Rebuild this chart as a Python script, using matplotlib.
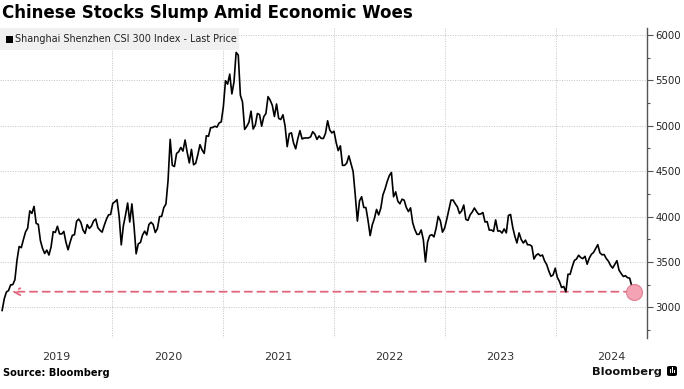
import numpy as np
import pandas as pd
import matplotlib
matplotlib.use("Agg")
import matplotlib.pyplot as plt
from matplotlib.patches import Rectangle, FancyBboxPatch

# Weekly (Friday) closes of the CSI 300
csi_2019 = [2965, 3094, 3168, 3184, 3247, 3250, 3303, 3520, 3670, 3657, 3746, 3830, 3872,
            4062, 4035, 4112, 3925, 3913, 3734, 3649, 3593, 3630, 3576, 3664, 3834, 3825,
            3893, 3809, 3808, 3836, 3717, 3634, 3720, 3793, 3799, 3948, 3972, 3936, 3852,
            3814, 3911, 3869, 3896, 3952, 3973, 3877, 3849, 3828, 3902, 3968, 4018, 4023]
csi_2020 = [4144, 4163, 4186, 4004, 3688, 3899, 4016, 4149, 3940, 4139, 3895, 3590, 3700,
            3713, 3796, 3839, 3797, 3912, 3937, 3913, 3824, 3867, 3999, 4003, 4098, 4138,
            4396, 4850, 4564, 4551, 4695, 4714, 4761, 4721, 4843, 4707, 4591, 4740, 4570,
            4587, 4681, 4792, 4733, 4695, 4890, 4884, 4978, 4981, 4995, 4985, 5031, 5042]
csi_2021 = [5211, 5496, 5458, 5569, 5351, 5484, 5808, 5779, 5336, 5262, 4960, 4993, 5037,
            5161, 4964, 5007, 5135, 5123, 4995, 5100, 5135, 5321, 5282, 5225, 5102, 5240,
            5081, 5069, 5121, 4999, 4770, 4913, 4922, 4810, 4746, 4858, 4946, 4855, 4865,
            4866, 4866, 4877, 4935, 4908, 4850, 4888, 4861, 4860, 4916, 5055, 4954, 4921, 4940]
csi_2022 = [4818, 4726, 4779, 4564, 4564, 4589, 4669, 4581, 4496, 4236, 3950, 4173, 4218,
            4100, 4099, 3958, 3790, 3909, 3978, 4078, 4018, 4091, 4238, 4303, 4385, 4450,
            4486, 4218, 4272, 4170, 4140, 4191, 4180, 4100, 4055, 4096, 3932, 3856, 3804,
            3804, 3852, 3745, 3500, 3720, 3790, 3800, 3776, 3870, 4002, 3954, 3828, 3872]
csi_2023 = [3968, 4075, 4181, 4181, 4141, 4107, 4034, 4061, 4127, 3968, 3958, 4019, 4050,
            4094, 4056, 4024, 4029, 4044, 3940, 3944, 3850, 3852, 3836, 3963, 3840, 3842,
            3818, 3864, 3820, 4012, 4023, 3884, 3784, 3709, 3820, 3748, 3708, 3740, 3689,
            3689, 3673, 3532, 3573, 3590, 3566, 3576, 3511, 3470, 3399, 3341, 3357, 3431]
csi_2024 = [3329, 3284, 3218, 3230, 3170, 3364, 3364, 3447, 3516, 3532, 3574, 3548, 3537,
            3562, 3475, 3541, 3584, 3604, 3646, 3690, 3601, 3579, 3581, 3537, 3508, 3462,
            3432, 3472, 3514, 3409, 3372, 3340, 3348, 3327, 3321, 3233, 3172]

years = [2019, 2020, 2021, 2022, 2023, 2024]
year_labels = ["2019", "2020", "2021", "2022", "2023", "2024"]
y_ticks = [3000, 3500, 4000, 4500, 5000, 5500, 6000]
arrow_start = "2019-01-28"

series = [csi_2019, csi_2020, csi_2021, csi_2022, csi_2023, csi_2024]
dates = []
values = []
for yr, vals in zip(years, series):
    dates.extend(pd.date_range(f"{yr}-01-01", periods=len(vals), freq="W-FRI"))
    values.extend(vals)
dates = pd.DatetimeIndex(dates)
values = np.array(values)

W, H = 684, 389
fig = plt.figure(figsize=(W / 100, H / 100), dpi=100)
ax = fig.add_axes([0 / W, 1 - 338 / H, 647 / W, (338 - 28) / H])

ax.plot(dates, values, color="black", lw=1.2, zorder=3)

# last price reference line back to early 2019
last_date, last_val = dates[-1], values[-1]
ax.annotate("", xy=(pd.Timestamp(arrow_start), last_val), xytext=(last_date, last_val),
            arrowprops=dict(arrowstyle="->,head_length=0.45,head_width=0.25",
                            color="#e0657c", lw=1.3, linestyle=(0, (4, 3))),
            zorder=2)
ax.plot([last_date], [last_val], "o", ms=11.5, mfc="#f3a3b3", mec="#e07f92",
        mew=0.8, zorder=4)

ax.set_xlim(pd.Timestamp("2018-12-28"), pd.Timestamp("2024-10-26"))
ax.set_ylim(2662, 6077)

# y axis on the right
ax.yaxis.tick_right()
ax.set_yticks(y_ticks)
ax.set_yticks(np.arange(2750, 6001, 250), minor=True)
ax.tick_params(axis="y", which="major", direction="out", length=4, width=0.8,
               color="#555555", labelsize=7.3, labelcolor="#222222", pad=2)
ax.tick_params(axis="y", which="minor", direction="out", length=2.5, width=0.8,
               color="#555555")

# x axis: gridlines at year boundaries, labels mid-year
ax.set_xticks([pd.Timestamp(f"{y}-01-01") for y in years[1:]])
ax.set_xticklabels([])
ax.set_xticks([pd.Timestamp(f"{y}-07-02") for y in years], minor=True)
ax.set_xticklabels(year_labels, minor=True)
ax.tick_params(axis="x", which="major", length=0)
ax.tick_params(axis="x", which="minor", length=0, labelsize=8,
               labelcolor="#333333", pad=10)

ax.grid(True, which="major", color="#c4c4c4", lw=0.7, linestyle=(0, (1, 1.5)))

for side in ["top", "left", "bottom"]:
    ax.spines[side].set_visible(False)
ax.spines["right"].set_color("#555555")
ax.spines["right"].set_linewidth(1.0)
ax.set_facecolor("none")

# title
fig.text(2 / W, 1 - 13 / H, "Chinese Stocks Slump Amid Economic Woes", fontsize=12,
         fontweight="bold", va="center", ha="left", color="black")

# legend box
fig.patches.append(Rectangle((0, 1 - 50 / H), 239 / W, 22 / H, transform=fig.transFigure,
                             facecolor="#f0f0f0", edgecolor="none", zorder=5))
fig.patches.append(Rectangle((6 / W, 1 - 43 / H), 7 / W, 7 / H, transform=fig.transFigure,
                             facecolor="black", edgecolor="none", zorder=6))
fig.text(15 / W, 1 - 39.5 / H, "Shanghai Shenzhen CSI 300 Index - Last Price",
         fontsize=6.9, va="center", ha="left", color="#222222", zorder=7)

# footer
fig.text(3 / W, 1 - 373 / H, "Source: Bloomberg", fontsize=7.1, fontweight="bold",
         va="center", ha="left", color="black")
fig.text(662 / W, 1 - 372 / H, "Bloomberg", fontsize=8.2, fontweight="bold",
         va="center", ha="right", color="#111111")
fig.patches.append(FancyBboxPatch((667 / W, 1 - 376 / H), 10 / W, 10 / H,
                                  boxstyle="round,pad=0,rounding_size=0.004",
                                  transform=fig.transFigure, facecolor="black",
                                  edgecolor="none"))
# little white bars inside the logo
for bx, bh in [(669.5, 4), (671.5, 6), (673.5, 3)]:
    fig.patches.append(Rectangle((bx / W, 1 - 373 / H), 1.2 / W, bh / H,
                                 transform=fig.transFigure, facecolor="white",
                                 edgecolor="none", zorder=6))

fig.savefig("out.png", dpi=100)
